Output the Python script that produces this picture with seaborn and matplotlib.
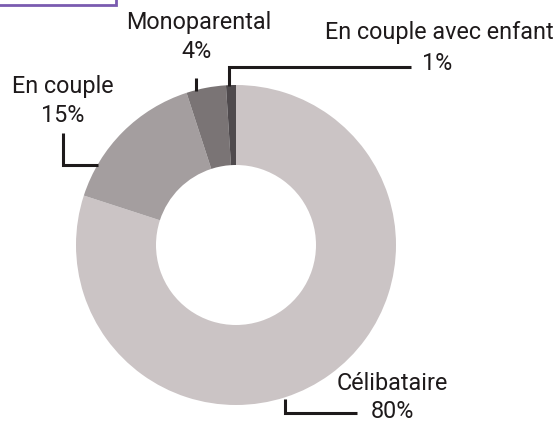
import matplotlib
matplotlib.use("Agg")
import matplotlib.pyplot as plt
import seaborn as sns
from matplotlib.patches import Rectangle

categories = ["Célibataire", "En couple", "Monoparental", "En couple avec enfant"]
shares = [80, 15, 4, 1]
pct_labels = ["80%", "15%", "4%", "1%"]
colors = ["#cbc4c5", "#a49e9f", "#7a7475", "#4f4a4d"]

sns.set_theme(style="white")
plt.rcParams["font.family"] = ["Roboto", "DejaVu Sans"]

W, H = 559, 422
fig = plt.figure(figsize=(W / 100, H / 100), dpi=100)
ax = fig.add_axes([0, 0, 1, 1])

# pie centre / radius in pixels
cx, cy, R = 236, 245, 160


def px(x, y):
    return (x - cx) / R, (cy - y) / R


ax.pie(shares, colors=colors, startangle=90, counterclock=False, radius=1,
       wedgeprops=dict(width=0.5, linewidth=0))
ax.set_xlim(px(0, 0)[0], px(W, 0)[0])
ax.set_ylim(px(0, H)[1], px(0, 0)[1])
ax.set_aspect("auto")
ax.axis("off")

ink = "#1e1a1b"
fs = 16.8

# leader lines (pixel paths)
leaders = {
    "En couple": [(63, 133), (63, 165), (98, 165)],
    "Monoparental": [(196, 78), (196, 91)],
    "En couple avec enfant": [(229, 86), (229, 67), (411, 67)],
    "Célibataire": [(285, 399), (285, 413), (357, 413)],
}
for name, pts in leaders.items():
    xs, ys = zip(*[px(*p) for p in pts])
    ax.plot(xs, ys, color=ink, lw=2.2, solid_capstyle="butt", solid_joinstyle="miter")

# label positions (name centre, pct centre) in pixels
label_pos = {
    "Célibataire": ((392, 383), (392, 412)),
    "En couple": ((63, 86), (63, 116)),
    "Monoparental": ((199, 22), (197, 52)),
    "En couple avec enfant": ((439, 33), (437, 64)),
}
for name, pct in zip(categories, pct_labels):
    (nx, ny), (qx, qy) = label_pos[name]
    ax.text(*px(nx, ny), name, ha="center", va="center", fontsize=fs, color=ink)
    ax.text(*px(qx, qy), pct, ha="center", va="center", fontsize=fs, color=ink)

# cropped purple frame at top-left
fig.patches.append(Rectangle((-10 / W, 1 - 5 / H), 126 / W, 20 / H,
                             transform=fig.transFigure, fill=False,
                             edgecolor="#7a5bb0", lw=2))

fig.savefig("out.png", dpi=100)
